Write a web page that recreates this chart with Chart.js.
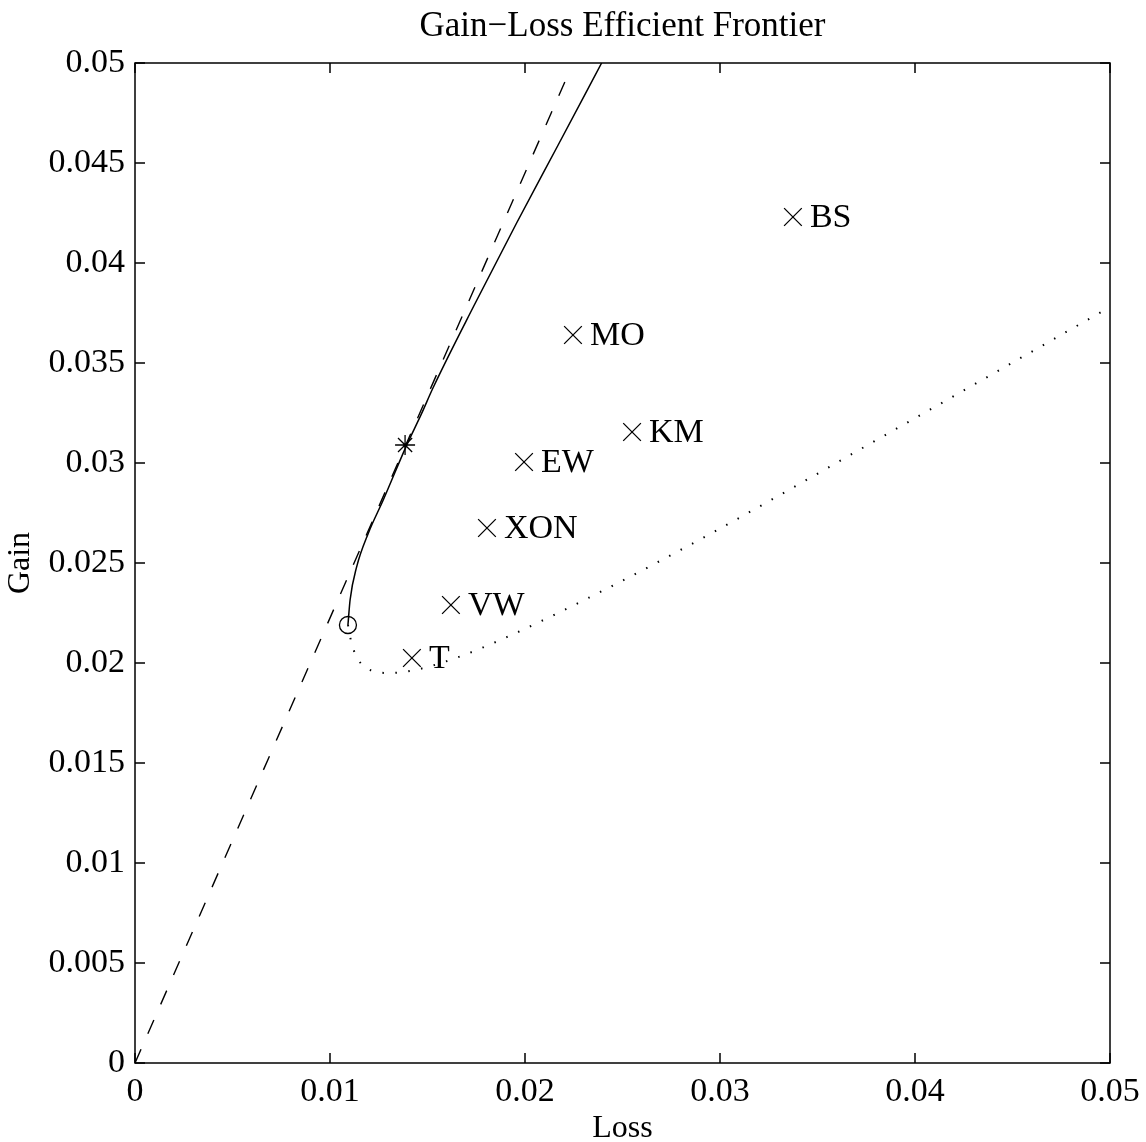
<!DOCTYPE html>
<html>
<head>
<meta charset="utf-8">
<script src="https://cdn.jsdelivr.net/npm/chart.js@4.4.0/dist/chart.umd.min.js"></script>
<style>
  html, body { margin: 0; padding: 0; background: #fff; }
  #wrap { width: 1146px; height: 1142px; }
</style>
</head>
<body>
<div id="wrap"><canvas id="frontier" width="1146" height="1142"></canvas></div>
<script>
// axis ticks
const lossTicks = [0, 0.01, 0.02, 0.03, 0.04, 0.05];
const gainTicks = [0, 0.005, 0.01, 0.015, 0.02, 0.025, 0.03, 0.035, 0.04, 0.045, 0.05];

// efficient (upper) frontier, solid
const frontierLoss = [0.01092, 0.01103, 0.01137, 0.01196, 0.01273, 0.0139, 0.0147, 0.01528, 0.0174, 0.01957, 0.0217, 0.02393];
const frontierGain = [0.0219, 0.02315, 0.02482, 0.02648, 0.02815, 0.03082, 0.03248, 0.03375, 0.0379, 0.042, 0.0459, 0.05];

// inefficient (lower) branch, dotted
const lowerLoss = [0.01092, 0.01113, 0.01179, 0.01308, 0.01436, 0.01631, 0.0188, 0.02422, 0.02954, 0.03938, 0.05];
const lowerGain = [0.0219, 0.0209, 0.0198, 0.0195, 0.01965, 0.0202, 0.02118, 0.02373, 0.02648, 0.0319, 0.0378];

// tangent line from origin, dashed
const tangentLoss = [0, 0.0222];
const tangentGain = [0, 0.0494];

// single assets
const assetNames = ['T', 'VW', 'XON', 'EW', 'MO', 'KM', 'BS'];
const assetLoss = [0.0142, 0.0162, 0.01805, 0.01995, 0.02246, 0.02549, 0.03374];
const assetGain = [0.02025, 0.0229, 0.02675, 0.03005, 0.0364, 0.03155, 0.0423];

// tangency portfolio (*) and minimum loss portfolio (o)
const tangencyPoint = [0.01385, 0.0309];
const minLossPoint = [0.01092, 0.0219];

const FONT = "'Liberation Serif', 'Times New Roman', serif";

function pts(xs, ys) {
  return xs.map((x, i) => ({ x: x, y: ys[i] }));
}

// box round the plot with inward tick marks on all four sides
const boxTicks = {
  id: 'boxTicks',
  afterDatasetsDraw(chart) {
    const ctx = chart.ctx;
    const a = chart.chartArea;
    const sx = chart.scales.x, sy = chart.scales.y;
    const len = 10;
    ctx.save();
    ctx.strokeStyle = '#000';
    ctx.lineWidth = 1.5;
    ctx.strokeRect(a.left, a.top, a.right - a.left, a.bottom - a.top);
    ctx.beginPath();
    lossTicks.forEach(v => {
      const px = sx.getPixelForValue(v);
      ctx.moveTo(px, a.bottom); ctx.lineTo(px, a.bottom - len);
      ctx.moveTo(px, a.top);    ctx.lineTo(px, a.top + len);
    });
    gainTicks.forEach(v => {
      const py = sy.getPixelForValue(v);
      ctx.moveTo(a.left, py);  ctx.lineTo(a.left + len, py);
      ctx.moveTo(a.right, py); ctx.lineTo(a.right - len, py);
    });
    ctx.stroke();
    ctx.restore();
  }
};

// asset names next to their markers
const assetLabels = {
  id: 'assetLabels',
  afterDatasetsDraw(chart) {
    const ctx = chart.ctx;
    const sx = chart.scales.x, sy = chart.scales.y;
    ctx.save();
    ctx.fillStyle = '#000';
    ctx.font = '34px ' + FONT;
    ctx.textAlign = 'left';
    ctx.textBaseline = 'middle';
    assetNames.forEach((name, i) => {
      ctx.fillText(name, sx.getPixelForValue(assetLoss[i]) + 17, sy.getPixelForValue(assetGain[i]) + 1);
    });
    ctx.restore();
  }
};

new Chart(document.getElementById('frontier'), {
  type: 'scatter',
  data: {
    datasets: [
      {
        label: 'tangent',
        data: pts(tangentLoss, tangentGain),
        showLine: true,
        borderColor: '#000',
        borderWidth: 1.4,
        borderDash: [15, 17],
        pointRadius: 0
      },
      {
        label: 'frontier',
        data: pts(frontierLoss, frontierGain),
        showLine: true,
        borderColor: '#000',
        borderWidth: 1.5,
        cubicInterpolationMode: 'monotone',
        pointRadius: 0
      },
      {
        label: 'lower',
        data: pts(lowerLoss, lowerGain),
        showLine: true,
        borderColor: '#000',
        borderWidth: 2,
        borderDash: [1.5, 11.5],
        cubicInterpolationMode: 'monotone',
        pointRadius: 0
      },
      {
        label: 'assets',
        data: pts(assetLoss, assetGain),
        pointStyle: 'crossRot',
        pointRadius: 12.5,
        borderColor: '#000',
        borderWidth: 1.3
      },
      {
        label: 'tangency',
        data: [{ x: tangencyPoint[0], y: tangencyPoint[1] }],
        pointStyle: 'star',
        pointRadius: 10,
        borderColor: '#000',
        borderWidth: 1.3
      },
      {
        label: 'min loss',
        data: [{ x: minLossPoint[0], y: minLossPoint[1] }],
        pointStyle: 'circle',
        pointRadius: 8.5,
        borderColor: '#000',
        backgroundColor: 'rgba(0,0,0,0)',
        borderWidth: 1.3
      }
    ]
  },
  options: {
    responsive: false,
    animation: false,
    layout: { padding: { top: 0, right: 36, bottom: 0, left: 0 } },
    plugins: {
      legend: { display: false },
      tooltip: { enabled: false },
      title: {
        display: true,
        text: 'Gain\u2212Loss Efficient Frontier',
        color: '#000',
        fullSize: false,
        font: { family: FONT, size: 35, weight: 'normal', lineHeight: 1.2 },
        padding: { top: 6, bottom: 15 }
      }
    },
    scales: {
      x: {
        type: 'linear',
        min: 0, max: 0.05,
        afterBuildTicks: s => { s.ticks = lossTicks.map(v => ({ value: v })); },
        afterFit: s => { s.height = 79; s.paddingLeft = 0; s.paddingRight = 0; },
        grid: { display: false, drawTicks: false },
        border: { display: false },
        ticks: {
          color: '#000',
          padding: 9,
          maxRotation: 0,
          font: { family: FONT, size: 34 },
          callback: v => String(+v.toFixed(3))
        },
        title: {
          display: true,
          text: 'Loss',
          color: '#000',
          padding: 0,
          font: { family: FONT, size: 32, lineHeight: 0.85 }
        }
      },
      y: {
        type: 'linear',
        min: 0, max: 0.05,
        afterBuildTicks: s => { s.ticks = gainTicks.map(v => ({ value: v })); },
        afterFit: s => { s.width = 135; s.paddingTop = 0; s.paddingBottom = 0; },
        grid: { display: false, drawTicks: false },
        border: { display: false },
        ticks: {
          color: '#000',
          padding: 10,
          font: { family: FONT, size: 34 },
          callback: v => String(+v.toFixed(3))
        },
        title: {
          display: true,
          text: 'Gain',
          color: '#000',
          padding: 5,
          font: { family: FONT, size: 32, lineHeight: 1 }
        }
      }
    }
  },
  plugins: [boxTicks, assetLabels]
});
</script>
</body>
</html>
